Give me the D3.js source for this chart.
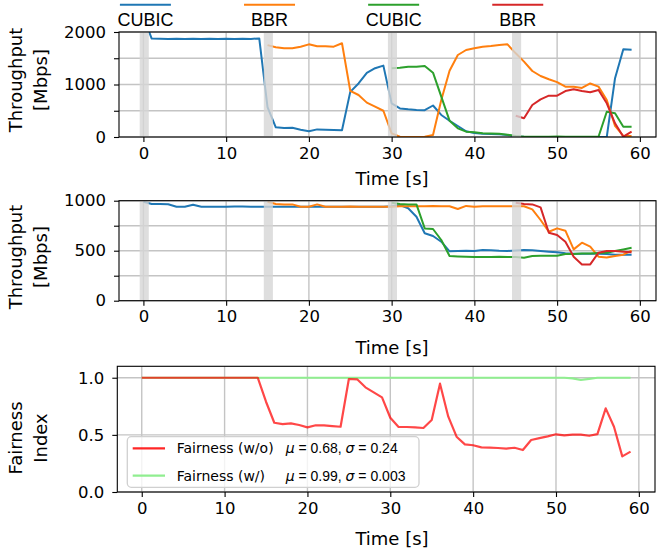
<!DOCTYPE html>
<html>
<head>
<meta charset="utf-8">
<script src="https://cdn.jsdelivr.net/npm/d3@7"></script>
<style>
	body { margin: 0; background: #fff; }
	svg text { font-family: "DejaVu Sans", sans-serif; fill: #000; }
</style>
</head>
<body>
<div id="chart"></div>
<script>
// flows join at these times (s)
const flowStarts = [0, 15, 30, 45];
const flowNames = ['CUBIC', 'BBR', 'CUBIC', 'BBR'];
const xTicks = [0, 10, 20, 30, 40, 50, 60];

// top: without fairness, Mbps, one value per second from the flow start
const tputCubic1 = [2290, 1875, 1870, 1865, 1870, 1868, 1872, 1868, 1870, 1868, 1872, 1868, 1872, 1868, 1878,
	570, 185, 170, 175, 140, 110, 145, 140, 135, 130, 860, 1020, 1220, 1310, 1360,
	640, 545, 527, 514, 510, 600, 420, 310, 210, 110, 75, 60, 55, 50, 40,
	10, 3, 2, 2, 2, 2, 2, 2, 2, 2, 2, 0, 1120, 1670, 1660];
const tputBbr1 = [1750, 1710, 1690, 1690, 1720, 1765, 1730, 1730, 1720, 1785, 880, 800, 655, 578, 500,
	70, 5, 2, 2, 5, 38, 705, 1263, 1562, 1657, 1690, 1720, 1733, 1752, 1765,
	1594, 1435, 1257, 1162, 1099, 1045, 958, 958, 935, 1020, 960, 705, 210, 20, 19];
const tputCubic2 = [1308, 1320, 1340, 1340, 1352, 1225, 768, 311, 165, 101, 89, 70, 68, 60, 45,
	20, 5, 5, 5, 5, 8, 5, 5, 5, 5, 5, 482, 451, 196, 196];
const tputBbr2 = [406, 356, 610, 718, 787, 787, 876, 908, 876, 851, 895, 642, 261, 6, 101];

// middle: with fairness
const fairCubic1 = [990, 967, 967, 965, 940, 940, 960, 940, 940, 940, 940, 942, 942, 940, 940,
	940, 940, 940, 940, 940, 940, 940, 940, 940, 940, 940, 940, 940, 940, 940,
	945, 957, 924, 840, 674, 647, 590, 494, 497, 500, 497, 507, 505, 500, 497,
	503, 507, 505, 497, 490, 484, 474, 470, 470, 470, 470, 467, 460, 460, 460];
const fairBbr1 = [990, 967, 963, 963, 940, 940, 963, 940, 940, 940, 942, 940, 940, 940, 940,
	940, 945, 945, 945, 945, 948, 945, 945, 917, 948, 940, 945, 945, 945, 945,
	945, 945, 913, 807, 690, 723, 700, 513, 580, 540, 440, 433, 447, 460, 500];
const fairCubic2 = [980, 967, 963, 963, 723, 717, 607, 447, 443, 440, 437, 437, 437, 440, 437,
	437, 430, 447, 450, 450, 450, 467, 467, 473, 473, 477, 480, 497, 513, 530];
const fairBbr2 = [980, 967, 963, 933, 680, 657, 590, 440, 363, 363, 480, 497, 497, 490, 484];

// jain's index per second
const jainWithout = [1, 1, 1, 1, 1, 1, 1, 1, 1, 1, 1, 1, 1, 1, 1,
	0.79, 0.606, 0.594, 0.6, 0.586, 0.566, 0.584, 0.583, 0.577, 0.571,
	0.989, 0.986, 0.916, 0.872, 0.828, 0.65, 0.569, 0.569, 0.566, 0.56,
	0.63, 0.948, 0.659, 0.484, 0.417, 0.409, 0.391, 0.389, 0.385, 0.38,
	0.387, 0.367, 0.455, 0.472, 0.487, 0.505, 0.496, 0.502, 0.502, 0.492,
	0.507, 0.732, 0.571, 0.312, 0.353];
const jainWith = [1, 1, 1, 1, 1, 1, 1, 1, 1, 1, 1, 1, 1, 1, 1,
	1, 1, 1, 1, 1, 1, 1, 1, 1, 1, 1, 1, 1, 1, 1,
	1, 1, 1, 1, 1, 1, 1, 1, 1, 1, 1, 1, 1, 1, 1,
	1, 1, 1, 1, 1, 1, 1, 0.995, 0.98, 0.99, 1, 1, 1, 1, 1];
const legendText = ['Fairness (w/o)', 'Fairness (w/)'];
const legendStats = ['0.68, ', '0.99, '];
const legendSigma = ['0.24', '0.003'];

const colors = ['#1f77b4', '#ff7f0e', '#2ca02c', '#d62728'];

function pts(start, vals) {
	return vals.map((v, i) => ({t: start + i, v: v}));
}

const svg = d3.select('#chart').append('svg').attr('width', 657).attr('height', 551);

function drawPanel(o) {
	const x = d3.scaleLinear().domain([-2.95, 61.95]).range([o.left, o.right]);
	const y = d3.scaleLinear().domain(o.yDomain).range([o.bottom, o.top]);
	const g = svg.append('g');
	const clipId = 'clip' + o.id;
	svg.append('clipPath').attr('id', clipId).append('rect')
		.attr('x', o.left).attr('y', o.top).attr('width', o.right - o.left).attr('height', o.bottom - o.top);

	// grid
	g.append('g').selectAll('line').data(xTicks).enter().append('line')
		.attr('x1', d => x(d)).attr('x2', d => x(d)).attr('y1', o.top).attr('y2', o.bottom)
		.attr('stroke', '#c4c4c4').attr('stroke-width', 1.4);
	g.append('g').selectAll('line').data(o.yTicks).enter().append('line')
		.attr('y1', d => y(d)).attr('y2', d => y(d)).attr('x1', o.left).attr('x2', o.right)
		.attr('stroke', '#c4c4c4').attr('stroke-width', 1.4);

	const line = d3.line().defined(d => d.v != null).x(d => x(d.t)).y(d => y(d.v));
	const lines = g.append('g').attr('clip-path', `url(#${clipId})`);
	o.series.forEach(s => {
		lines.append('path').datum(s.data)
			.attr('fill', 'none').attr('stroke', s.color)
			.attr('stroke-width', s.width || 2).attr('stroke-opacity', s.opacity || 1)
			.attr('stroke-linejoin', 'round')
			.attr('d', line);
	});

	// grey marks where a flow joins
	if (o.spans) {
		g.append('g').selectAll('rect').data(flowStarts).enter().append('rect')
			.attr('x', d => x(d - 0.45)).attr('width', d => x(d + 0.65) - x(d - 0.45))
			.attr('y', o.top).attr('height', o.bottom - o.top)
			.attr('fill', '#d6d6d6').attr('opacity', 0.8);
	}

	const xAxis = g.append('g').attr('transform', `translate(0,${o.bottom})`)
		.call(d3.axisBottom(x).tickValues(xTicks).tickSize(5).tickPadding(5).tickSizeOuter(0));
	const yAxis = g.append('g').attr('transform', `translate(${o.left},0)`)
		.call(d3.axisLeft(y).tickValues(o.yTicks).tickFormat(o.yFormat).tickSize(5).tickPadding(8).tickSizeOuter(0));
	[xAxis, yAxis].forEach(a => {
		a.select('.domain').remove();
		a.selectAll('text').attr('font-size', '16.5px').attr('fill', '#000');
		a.selectAll('line').attr('stroke', '#000').attr('stroke-width', 1.1);
	});

	g.append('rect').attr('x', o.left).attr('y', o.top)
		.attr('width', o.right - o.left).attr('height', o.bottom - o.top)
		.attr('fill', 'none').attr('stroke', '#000').attr('stroke-width', 1.1);

	g.append('text').attr('x', 392).attr('y', o.xlabelY).attr('text-anchor', 'middle')
		.attr('font-size', '18px').text('Time [s]');

	const yl = g.append('text').attr('transform', `translate(22,${o.ylabelC}) rotate(-90)`)
		.attr('text-anchor', 'middle').attr('font-size', '18px');
	yl.append('tspan').attr('x', 0).attr('dy', 0).text(o.ylabel[0]);
	yl.append('tspan').attr('x', 0).attr('dy', '1.38em').text(o.ylabel[1]);
	return {x: x, y: y, g: g};
}

const top1 = drawPanel({
	id: 1, left: 119, right: 656, top: 32, bottom: 137,
	yDomain: [0, 2000], yTicks: [0, 500, 1000, 1500, 2000],
	yFormat: d => d % 1000 == 0 ? d : '',
	spans: true, xlabelY: 184.5, ylabelC: 80, ylabel: ['Throughput', '[Mbps]'],
	series: [
		{data: pts(flowStarts[0], tputCubic1), color: colors[0]},
		{data: pts(flowStarts[1], tputBbr1), color: colors[1]},
		{data: pts(flowStarts[2], tputCubic2), color: colors[2]},
		{data: pts(flowStarts[3], tputBbr2), color: colors[3]}
	]
});

drawPanel({
	id: 2, left: 119, right: 656, top: 200.7, bottom: 300.7,
	yDomain: [0, 1000], yTicks: [0, 250, 500, 750, 1000],
	yFormat: d => d % 500 == 0 ? d : '',
	spans: true, xlabelY: 354, ylabelC: 257, ylabel: ['Throughput', '[Mbps]'],
	series: [
		{data: pts(flowStarts[0], fairCubic1), color: colors[0]},
		{data: pts(flowStarts[1], fairBbr1), color: colors[1]},
		{data: pts(flowStarts[2], fairCubic2), color: colors[2]},
		{data: pts(flowStarts[3], fairBbr2), color: colors[3]}
	]
});

drawPanel({
	id: 3, left: 117.3, right: 655, top: 366.3, bottom: 492,
	yDomain: [0, 1.1], yTicks: [0, 0.5, 1.0],
	yFormat: d3.format('.1f'),
	spans: false, xlabelY: 545, ylabelC: 438, ylabel: ['Fairness', 'Index'],
	series: [
		{data: pts(0, jainWith), color: '#90ee90', width: 2.2},
		{data: pts(0, jainWithout), color: '#ff0000', opacity: 0.72, width: 2.2}
	]
});

// flow legend above the top panel
const fl = svg.append('g').selectAll('g').data(flowStarts).enter().append('g')
	.attr('transform', d => `translate(${top1.x(d) + 2},0)`);
fl.append('line').attr('x1', -25.5).attr('x2', 25.5).attr('y1', 4.7).attr('y2', 4.7)
	.attr('stroke', (d, i) => colors[i]).attr('stroke-width', 2);
fl.append('text').attr('y', 26).attr('text-anchor', 'middle').attr('font-size', '18px')
	.style('font-family', '"Liberation Sans", Arial, sans-serif')
	.text((d, i) => flowNames[i]);

// fairness legend
const lg = svg.append('g');
lg.append('rect').attr('x', 127.3).attr('y', 436.7).attr('width', 291.7).attr('height', 50.6)
	.attr('rx', 4).attr('fill', '#fff').attr('fill-opacity', 0.8)
	.attr('stroke', '#d0d0d0').attr('stroke-width', 1.3);
const lgColors = ['#ff0000', '#90ee90'];
const lgRows = lg.selectAll('g').data(legendText).enter().append('g')
	.attr('transform', (d, i) => `translate(0,${448.3 + i * 27.4})`);
lgRows.append('line').attr('x1', 132.7).attr('x2', 165).attr('stroke-width', 2.2)
	.attr('stroke', (d, i) => lgColors[i]).attr('stroke-opacity', (d, i) => i == 0 ? 0.85 : 1);
lgRows.append('text').attr('x', 176.7).attr('y', 5).attr('font-size', '14px').text(d => d);
const st = lgRows.append('text').attr('x', 285.7).attr('y', 5).attr('font-size', '14px')
	.style('font-family', '"Liberation Sans", Arial, sans-serif');
st.append('tspan').style('font-family', '"DejaVu Sans"').attr('font-style', 'italic').text('\u03bc');
st.append('tspan').text((d, i) => ' = ' + legendStats[i]);
st.append('tspan').style('font-family', '"DejaVu Sans"').attr('font-style', 'italic').text('\u03c3');
st.append('tspan').text((d, i) => ' = ' + legendSigma[i]);
</script>
</body>
</html>
